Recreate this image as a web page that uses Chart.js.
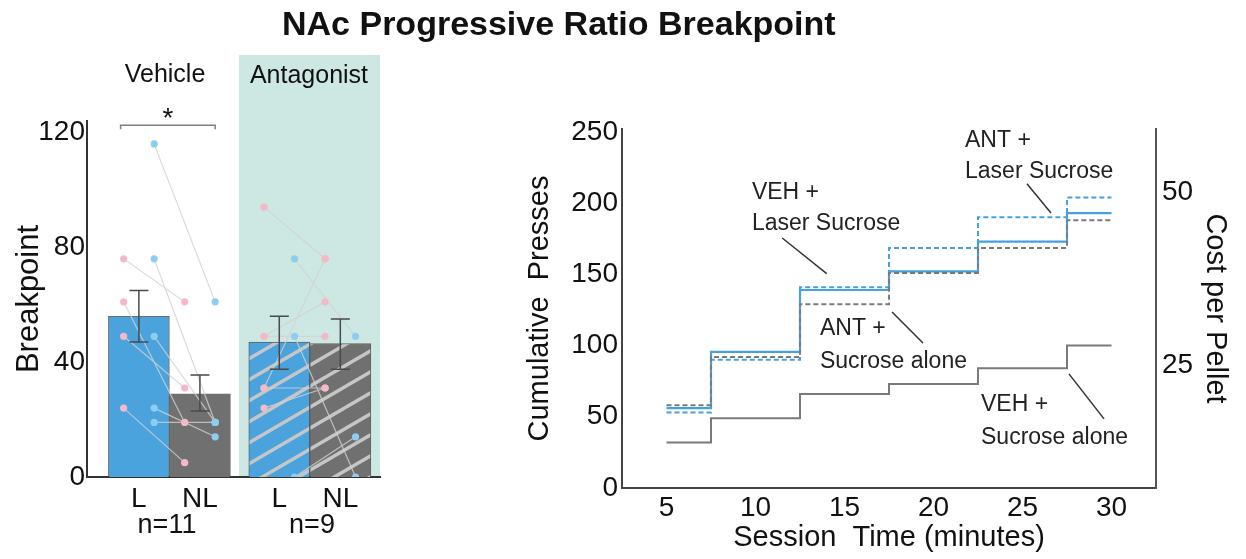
<!DOCTYPE html>
<html lang="en">
<head>
<meta charset="utf-8">
<script src="https://cdn.jsdelivr.net/npm/chart.js@4.4.1/dist/chart.umd.min.js"></script>
<title>NAc Progressive Ratio Breakpoint</title>
<style>
  body { margin:0; background:#fff; width:1246px; height:559px; overflow:hidden; position:relative;
         font-family:"Liberation Sans", Arial, sans-serif; color:#111; }
  .t { position:absolute; white-space:nowrap; line-height:1; z-index:2; }
  .c { transform:translateX(-50%); }
  #bars { position:absolute; left:0; top:0; z-index:1; }
  #steps { position:absolute; left:500px; top:0; z-index:1; }
</style>
</head>
<body>
<canvas id="bars" width="400" height="559"></canvas>
<canvas id="steps" width="746" height="559"></canvas>

<div class="t" style="left:282px;top:6px;font-size:34px;font-weight:bold">NAc Progressive Ratio Breakpoint</div>
<div class="t c" style="left:165px;top:61px;font-size:25px">Vehicle</div>
<div class="t c" style="left:309px;top:62px;font-size:25px">Antagonist</div>
<div class="t c" style="left:168px;top:104px;font-size:28px">*</div>
<div class="t c" style="left:167px;top:511px;font-size:27px">n=11</div>
<div class="t c" style="left:312px;top:511px;font-size:27px">n=9</div>

<script>
// ---- left panel: breakpoint bars ----
var barLabels = ['L', 'NL', 'L', 'NL'];
var barX = [0.85, 1.85, 3.15, 4.15];
var barMeans = [56, 29, 47, 46.5];
var errLow = [47, 23, 37.5, 37.5];
var errHigh = [65, 35.5, 56, 55];
var yTicksLeft = [0, 40, 80, 120];

// individual rats, [L, NL]
var vehPink = [[76, 61], [61, 19], [49, 31], [24, 5]];
var vehBlue = [[116, 61], [76, 19], [49, 19], [24, 14], [19, 19]];
var antPink = [[94, 76], [31, 76], [49, 61], [24, 31], [49, 49], [31, 31]];
var antBlue = [[76, 49], [49, 0], [0, 14]];

// ---- right panel: cumulative presses ----
var stepTimes = [5, 7.5, 12.5, 17.5, 22.5, 27.5, 30];
var vehSucrose = [32, 49, 66, 73, 84, 100];
var vehLaser = [56, 95.5, 139, 152, 173, 193];
var antLaser = [53, 90, 141, 168.5, 190, 204];
var antSucrose = [58, 92, 129, 151, 168.5, 188];
var xTicksRight = [5, 10, 15, 20, 25, 30];
var yTicksRight = [0, 50, 100, 150, 200, 250];
var costTicks = [25, 50];

var BLUE = '#4aa3dc', GREY = '#707070', PINK = '#f4b9c7', LBLUE = '#8ccdf0';
var FONT = '"Liberation Sans", Arial, sans-serif';
Chart.defaults.font.family = FONT;
Chart.defaults.color = '#111';

function hatch(base) {
  var c = document.createElement('canvas');
  c.width = 36; c.height = 21;
  var g = c.getContext('2d');
  g.fillStyle = base; g.fillRect(0, 0, 36, 21);
  g.strokeStyle = '#c6c6c6'; g.lineWidth = 3.5;
  for (var k = -1; k <= 1; k++) {
    g.beginPath(); g.moveTo(-36, 42 + k * 21); g.lineTo(72, -21 + k * 21); g.stroke();
  }
  return g.createPattern(c, 'repeat');
}

function pairs(list, iL, iN, off) {
  var pts = [], segs = [];
  list.forEach(function (p) {
    var xl = barX[iL] + off, xn = barX[iN] + off;
    pts.push({x: xl, y: p[0]}, {x: xn, y: p[1]});
    segs.push({x: xl, y: p[0]}, {x: xn, y: p[1]}, {x: xn, y: null});
  });
  return {pts: pts, segs: segs};
}
var vp = pairs(vehPink, 0, 1, -0.25), vb = pairs(vehBlue, 0, 1, 0.25);
var ap = pairs(antPink, 2, 3, -0.25), ab = pairs(antBlue, 2, 3, 0.25);

var leftDecor = {
  id: 'leftDecor',
  beforeDraw: function (chart) {
    var ctx = chart.ctx, x = chart.scales.x, y = chart.scales.y;
    var l = x.getPixelForValue(2.49), r = x.getPixelForValue(4.8);
    var t = y.getPixelForValue(147), b = y.getPixelForValue(0);
    ctx.save();
    ctx.fillStyle = '#cde7e2';
    ctx.fillRect(l, t, r - l, b - t);
    ctx.restore();
  },
  afterDatasetsDraw: function (chart) {
    var ctx = chart.ctx, x = chart.scales.x, y = chart.scales.y;
    ctx.save();
    ctx.strokeStyle = '#4a4a4a'; ctx.lineWidth = 1.5;
    for (var i = 0; i < barX.length; i++) {
      var px = x.getPixelForValue(barX[i]);
      var lo = y.getPixelForValue(errLow[i]), hi = y.getPixelForValue(errHigh[i]);
      ctx.beginPath();
      ctx.moveTo(px, lo); ctx.lineTo(px, hi);
      ctx.moveTo(px - 9.5, lo); ctx.lineTo(px + 9.5, lo);
      ctx.moveTo(px - 9.5, hi); ctx.lineTo(px + 9.5, hi);
      ctx.stroke();
    }
    // significance bracket
    var bl = x.getPixelForValue(0.55), br = x.getPixelForValue(2.1), by = y.getPixelForValue(122.5);
    ctx.strokeStyle = '#808080';
    ctx.beginPath();
    ctx.moveTo(bl, by + 4); ctx.lineTo(bl, by); ctx.lineTo(br, by); ctx.lineTo(br, by + 4);
    ctx.stroke();
    ctx.restore();
  }
};

new Chart(document.getElementById('bars'), {
  type: 'bar',
  data: {
    datasets: [
      {
        type: 'scatter', data: vp.pts.concat(ap.pts), backgroundColor: PINK,
        pointRadius: 3.6, pointBorderWidth: 0, order: 1
      },
      {
        type: 'scatter', data: vb.pts.concat(ab.pts), backgroundColor: LBLUE,
        pointRadius: 3.6, pointBorderWidth: 0, order: 1
      },
      {
        type: 'line', data: vp.segs.concat(vb.segs, ap.segs, ab.segs),
        borderColor: 'rgba(210,210,210,0.8)', borderWidth: 1.2, pointRadius: 0,
        spanGaps: false, order: 2
      },
      {
        type: 'bar', data: barX.map(function (v, i) { return {x: v, y: barMeans[i]}; }),
        backgroundColor: [BLUE, GREY, hatch(BLUE), hatch(GREY)],
        borderColor: 'rgba(45,45,45,0.7)', borderWidth: 1, barThickness: 61, order: 3
      }
    ]
  },
  options: {
    responsive: false, animation: false,
    layout: {padding: {top: 121, right: 20, left: 0, bottom: 0}},
    plugins: {legend: {display: false}, tooltip: {enabled: false}},
    scales: {
      x: {
        type: 'linear', min: 0, max: 4.8, offset: false,
        grid: {display: false, drawTicks: false}, border: {color: '#333', width: 2},
        afterBuildTicks: function (s) { s.ticks = barX.map(function (v) { return {value: v}; }); },
        afterFit: function (s) { s.height = 82; },
        ticks: {autoSkip: false, maxRotation: 0, padding: 5, font: {size: 28},
                callback: function (v, i) { return barLabels[i]; }}
      },
      y: {
        min: 0, max: 124,
        grid: {display: false, drawTicks: false}, border: {color: '#333', width: 2},
        afterBuildTicks: function (s) { s.ticks = yTicksLeft.map(function (v) { return {value: v}; }); },
        afterFit: function (s) { s.width = 87; },
        ticks: {padding: 2, font: {size: 28}},
        title: {display: true, text: 'Breakpoint', font: {size: 31}, padding: {top: 11, bottom: 0}}
      }
    }
  },
  plugins: [leftDecor]
});

// ---- right panel ----
function steps(vals) {
  return stepTimes.map(function (t, i) { return {x: t, y: vals[Math.min(i, vals.length - 1)]}; });
}
var notes = [
  {text: ['VEH +', 'Laser Sucrose'], x: 9.8, y: [203, 181], lead: [11.5, 175.5, 14, 150.5]},
  {text: ['ANT +', 'Laser Sucrose'], x: 21.77, y: [239.5, 217.7], lead: [25.25, 213.5, 26.6, 193]},
  {text: ['ANT +', 'Sucrose alone'], x: 13.62, y: [107.4, 84.3], lead: [17.67, 123.6, 19.41, 101.8]},
  {text: ['VEH +', 'Sucrose alone'], x: 22.67, y: [54.1, 30.9], lead: [27.61, 80.1, 29.58, 48.5]}
];
var rightNotes = {
  id: 'rightNotes',
  afterDatasetsDraw: function (chart) {
    var ctx = chart.ctx, x = chart.scales.x, y = chart.scales.y;
    ctx.save();
    ctx.fillStyle = '#222'; ctx.strokeStyle = '#333'; ctx.lineWidth = 1.5;
    ctx.font = '23px ' + FONT; ctx.textBaseline = 'alphabetic'; ctx.textAlign = 'left';
    notes.forEach(function (n) {
      n.text.forEach(function (s, k) { ctx.fillText(s, x.getPixelForValue(n.x), y.getPixelForValue(n.y[k])); });
      ctx.beginPath();
      ctx.moveTo(x.getPixelForValue(n.lead[0]), y.getPixelForValue(n.lead[1]));
      ctx.lineTo(x.getPixelForValue(n.lead[2]), y.getPixelForValue(n.lead[3]));
      ctx.stroke();
    });
    ctx.restore();
  }
};

new Chart(document.getElementById('steps'), {
  type: 'line',
  data: {
    datasets: [
      {label: 'VEH + Sucrose alone', data: steps(vehSucrose), borderColor: '#7a7a7a', borderWidth: 2, stepped: true, pointRadius: 0},
      {label: 'ANT + Sucrose alone', data: steps(antSucrose), borderColor: '#7a7a7a', borderWidth: 2, borderDash: [5, 3], stepped: true, pointRadius: 0},
      {label: 'ANT + Laser Sucrose', data: steps(antLaser), borderColor: '#45a2de', borderWidth: 2, borderDash: [5, 3], stepped: true, pointRadius: 0},
      {label: 'VEH + Laser Sucrose', data: steps(vehLaser), borderColor: '#45a2de', borderWidth: 2.2, stepped: true, pointRadius: 0}
    ]
  },
  options: {
    responsive: false, animation: false,
    layout: {padding: {top: 129, right: 0, left: 0, bottom: 0}},
    plugins: {legend: {display: false}, tooltip: {enabled: false}},
    scales: {
      x: {
        type: 'linear', min: 2.5, max: 32.5,
        grid: {display: false, drawTicks: false}, border: {color: '#444', width: 2},
        afterBuildTicks: function (s) { s.ticks = xTicksRight.map(function (v) { return {value: v}; }); },
        afterFit: function (s) { s.height = 71; },
        ticks: {padding: 3, maxRotation: 0, font: {size: 28}},
        title: {display: true, text: 'Session  Time (minutes)', font: {size: 29}, padding: {top: 0, bottom: 4}}
      },
      y: {
        min: 0, max: 252, position: 'left',
        grid: {display: false, drawTicks: false}, border: {color: '#444', width: 2},
        afterBuildTicks: function (s) { s.ticks = yTicksRight.map(function (v) { return {value: v}; }); },
        afterFit: function (s) { s.width = 122; },
        ticks: {padding: 4, font: {size: 28}},
        title: {display: true, text: 'Cumulative  Presses', font: {size: 29}, padding: {top: 23, bottom: 0}}
      },
      cost: {
        type: 'linear', min: 7.2, max: 59.1, position: 'right',
        grid: {display: false, drawTicks: false}, border: {color: '#555', width: 2},
        afterBuildTicks: function (s) { s.ticks = costTicks.map(function (v) { return {value: v}; }); },
        afterFit: function (s) { s.width = 90; },
        ticks: {padding: 6, font: {size: 28}},
        title: {display: true, text: 'Cost per Pellet', font: {size: 29}, padding: {top: 14, bottom: 0}}
      }
    }
  },
  plugins: [rightNotes]
});
</script>
</body>
</html>
